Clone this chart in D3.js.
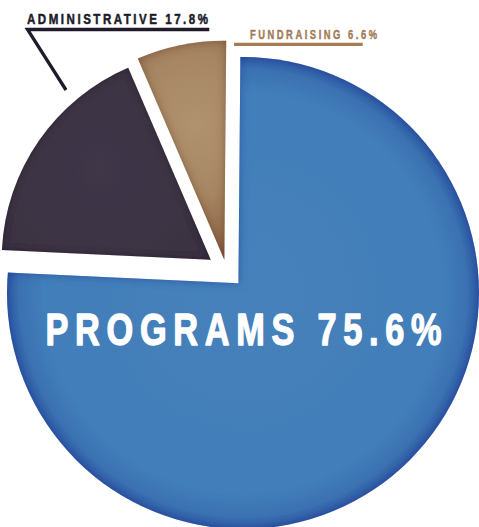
<!DOCTYPE html>
<html>
<head>
<meta charset="utf-8">
<script src="https://cdn.jsdelivr.net/npm/d3@7"></script>
<style>
  html, body { margin: 0; padding: 0; background: #fff; }
  svg { display: block; }
  .lbl { font-family: "Liberation Sans", Arial, sans-serif; font-weight: bold; }
</style>
</head>
<body>
<div id="chart"></div>
<script>
// ---- data ----
const categories = ["PROGRAMS", "ADMINISTRATIVE", "FUNDRAISING"];
const values = [75.6, 17.8, 6.6];
const valueLabels = ["75.6%", "17.8%", "6.6%"];

// ---- layout ----
const W = 479, H = 527;
const rot = 0.5 * Math.PI / 180;
const center = [226.5, 270.7];
const explode = [17.3, 19.2, 11.1];
const outerR = [320, 209, 219];
const blueDisc = { cx: 243, cy: 293, r: 236 };
const condense = 0.78;

const svg = d3.select("#chart").append("svg")
  .attr("width", W).attr("height", H)
  .attr("viewBox", `0 0 ${W} ${H}`);
const defs = svg.append("defs");

const pie = d3.pie().sort(null).value(d => d.value)
  .startAngle(rot).endAngle(2 * Math.PI + rot);
const arcs = pie(categories.map((c, i) => ({ name: c, value: values[i], label: valueLabels[i] })));

// apex of each exploded slice
arcs.forEach((a, i) => {
  const mid = (a.startAngle + a.endAngle) / 2;
  a.apex = [center[0] + explode[i] * Math.sin(mid), center[1] - explode[i] * Math.cos(mid)];
});

// inner-shadow filters
function innerShadow(id, color, sd, op) {
  const f = defs.append("filter").attr("id", id)
    .attr("x", "-10%").attr("y", "-10%").attr("width", "120%").attr("height", "120%");
  f.append("feFlood").attr("flood-color", color).attr("flood-opacity", op).attr("result", "f");
  f.append("feComposite").attr("in", "f").attr("in2", "SourceAlpha").attr("operator", "out").attr("result", "o");
  f.append("feGaussianBlur").attr("in", "o").attr("stdDeviation", sd).attr("result", "b");
  f.append("feComposite").attr("in", "b").attr("in2", "SourceAlpha").attr("operator", "in").attr("result", "s");
  const m = f.append("feMerge");
  m.append("feMergeNode").attr("in", "SourceGraphic");
  m.append("feMergeNode").attr("in", "s");
}
innerShadow("isBlue", "#21409a", 4, 0.8);
innerShadow("isDark", "#1c1622", 3, 0.6);
innerShadow("isFund", "#6a3a2a", 5, 0.75);

// gradients (user space relative to each apex)
const bA = arcs[0].apex;
const gBlue = defs.append("radialGradient").attr("id", "gBlue")
  .attr("gradientUnits", "userSpaceOnUse")
  .attr("cx", blueDisc.cx - bA[0]).attr("cy", blueDisc.cy - bA[1]).attr("r", blueDisc.r);
[[0, "#4681bb"], [0.85, "#427eb9"], [0.95, "#3b71b1"], [1, "#3059a3"]]
  .forEach(([o, c]) => gBlue.append("stop").attr("offset", o).attr("stop-color", c));

const fA = arcs[2].apex;
const gFund = defs.append("radialGradient").attr("id", "gFund")
  .attr("gradientUnits", "userSpaceOnUse")
  .attr("cx", 196 - fA[0]).attr("cy", 125 - fA[1]).attr("r", 150);
[[0, "#b0926f"], [0.45, "#a78763"], [0.8, "#93694c"], [1, "#7e4e3a"]]
  .forEach(([o, c]) => gFund.append("stop").attr("offset", o).attr("stop-color", c));

const dA = arcs[1].apex;
const gDark = defs.append("radialGradient").attr("id", "gDark")
  .attr("gradientUnits", "userSpaceOnUse")
  .attr("cx", 100 - dA[0]).attr("cy", 170 - dA[1]).attr("r", 200);
[[0, "#3f3747"], [1, "#38303f"]]
  .forEach(([o, c]) => gDark.append("stop").attr("offset", o).attr("stop-color", c));

defs.append("clipPath").attr("id", "blueClip")
  .append("circle").attr("cx", blueDisc.cx).attr("cy", blueDisc.cy).attr("r", blueDisc.r);

const fills = ["url(#gBlue)", "url(#gDark)", "url(#gFund)"];
const filters = ["url(#isBlue)", "url(#isDark)", "url(#isFund)"];

arcs.forEach((a, i) => {
  const arcGen = d3.arc().innerRadius(0).outerRadius(outerR[i]);
  const outer = svg.append("g").attr("filter", filters[i]);
  const inner = outer.append("g");
  if (i === 0) inner.attr("clip-path", "url(#blueClip)");
  inner.append("path")
    .attr("transform", `translate(${a.apex[0]},${a.apex[1]})`)
    .attr("d", arcGen(a))
    .attr("fill", fills[i]);
});

// ---- labels (condensed bold: horizontally scaled) ----
function label(str, x, y, size, width, color, sw) {
  svg.append("text").attr("class", "lbl")
    .attr("transform", `translate(${x},${y}) scale(${condense},1)`)
    .attr("x", 0).attr("y", 0)
    .attr("font-size", size)
    .attr("fill", color)
    .attr("stroke", color).attr("stroke-width", sw).attr("stroke-linejoin", "round")
    .attr("textLength", width / condense).attr("lengthAdjust", "spacing")
    .text(str);
}

// Programs (inside blue)
label(`${categories[0]} ${valueLabels[0]}`, 45.5, 344.5, 44, 396, "#ffffff", 1.3);

// Administrative label with leader
const adminColor = "#201b2a";
label(`${categories[1]} ${valueLabels[1]}`, 27, 23.8, 14.8, 181, adminColor, 0.5);
svg.append("path")
  .attr("d", d3.line()([[209.3, 29.5], [27.5, 29.5], [66, 90]]))
  .attr("fill", "none").attr("stroke", adminColor)
  .attr("stroke-width", 3.3).attr("stroke-linejoin", "miter");

// Fundraising label with underline
const fundColor = "#a27b56";
label(`${categories[2]} ${valueLabels[2]}`, 250, 39.2, 12, 127, fundColor, 0.4);
svg.append("path")
  .attr("d", d3.line()([[234, 44.3], [362.7, 44.3]]))
  .attr("stroke", "#a47b55").attr("stroke-width", 3.3);
</script>
</body>
</html>
